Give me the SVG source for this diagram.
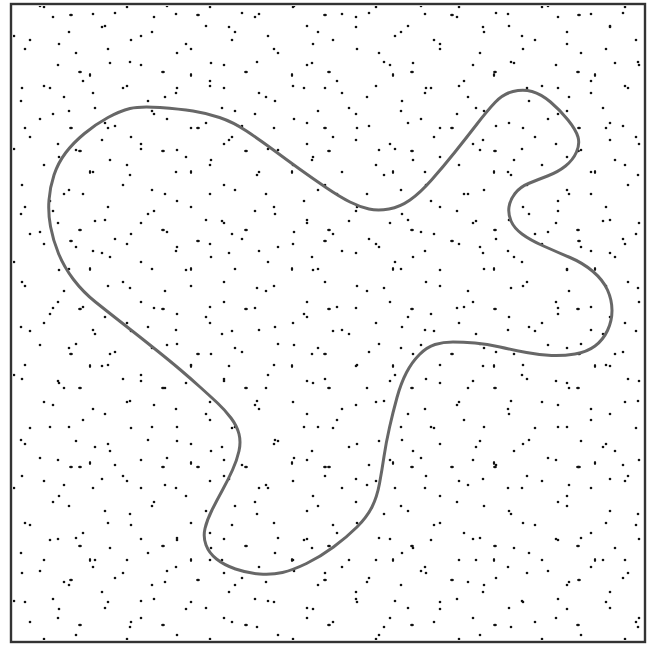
<svg xmlns="http://www.w3.org/2000/svg" width="648" height="645" viewBox="0 0 648 645">
<defs>
<style>
.d{fill:#111}
.frame{fill:none;stroke:#333;stroke-width:2.4}
.blob{fill:none;stroke:#676767;stroke-width:3;stroke-linejoin:round}
</style>
<pattern id="pA" patternUnits="userSpaceOnUse" x="3" y="2" width="83" height="79">
<circle class="d" cx="7" cy="12" r="1.3"/><circle class="d" cx="41" cy="5" r="1.3"/><circle class="d" cx="66" cy="30" r="1.3"/><circle class="d" cx="22" cy="47" r="1.3"/><circle class="d" cx="55" cy="63" r="1.3"/><ellipse class="d" cx="77" cy="70" rx="1.9" ry="1.2"/>
</pattern>
<pattern id="pB" patternUnits="userSpaceOnUse" x="17" y="9" width="101" height="97">
<circle class="d" cx="13" cy="31" r="1.3"/><circle class="d" cx="36" cy="8" r="1.3"/><circle class="d" cx="59" cy="44" r="1.3"/><circle class="d" cx="88" cy="17" r="1.3"/><circle class="d" cx="5" cy="79" r="1.3"/><circle class="d" cx="47" cy="88" r="1.3"/><ellipse class="d" cx="73" cy="66" rx="1.2" ry="1.9"/><circle class="d" cx="93" cy="54" r="1.3"/>
</pattern>
<pattern id="pC" patternUnits="userSpaceOnUse" x="31" y="24" width="127" height="113">
<circle class="d" cx="9" cy="95" r="1.3"/><circle class="d" cx="28" cy="20" r="1.3"/><circle class="d" cx="52" cy="57" r="1.3"/><circle class="d" cx="71" cy="3" r="1.3"/><circle class="d" cx="84" cy="102" r="1.3"/><circle class="d" cx="99" cy="38" r="1.3"/><circle class="d" cx="117" cy="77" r="1.3"/><ellipse class="d" cx="40" cy="104" rx="1.9" ry="1.2"/><circle class="d" cx="19" cy="64" r="1.3"/><circle class="d" cx="110" cy="12" r="1.3"/><circle class="d" cx="64" cy="84" r="1.3"/>
</pattern>
</defs>
<rect x="0" y="0" width="648" height="645" fill="#fff"/>
<g id="dots">
<rect x="13" y="6" width="630" height="634" fill="url(#pA)"/>
<rect x="13" y="6" width="630" height="634" fill="url(#pB)"/>
<rect x="13" y="6" width="630" height="634" fill="url(#pC)"/>
</g>
<g id="frame"><rect class="frame" x="11" y="4" width="634" height="638"/></g>
<g id="outline">
<path class="blob" d="M130,108.5 Q140,106 160,107.5 Q180,109 193,111 Q206,113 219.5,117.5 Q233,122 246.5,131 Q260,140 273.5,150 Q287,160 299.5,169 Q312,178 326,187.5 Q340,197 350,202 Q360,207 369,209 Q378,211 389,209 Q400,207 410,200 Q420,193 431.5,180 Q443,167 455,152 Q467,137 477,124 Q487,111 495,102.5 Q503,94 513,91.5 Q523,89 532,91.5 Q541,94 550.5,102 Q560,110 568,120 Q576,130 578,137 Q580,144 576.5,152 Q573,160 565.5,166 Q558,172 547.5,176 Q537,180 528.5,183.5 Q520,187 515,193.5 Q510,200 509,207 Q508,214 511,221 Q514,228 522,234 Q530,240 543.5,246 Q557,252 570,257.5 Q583,263 593,271.5 Q603,280 607.5,290 Q612,300 612,310.5 Q612,321 607.5,330.5 Q603,340 595,346 Q587,352 575,354 Q563,356 551.5,355.5 Q540,355 526.5,352.5 Q513,350 500,347 Q487,344 475,343 Q463,342 453,342 Q443,342 435,344.5 Q427,347 419.5,354.5 Q412,362 406.5,372.5 Q401,383 397,397.5 Q393,412 389.5,427.5 Q386,443 384,456.5 Q382,470 379.5,483.5 Q377,497 372,507 Q367,517 357,527 Q347,537 333.5,547 Q320,557 306.5,563.5 Q293,570 282.5,572.5 Q272,575 259.5,574 Q247,573 235.5,569 Q224,565 216.5,559 Q209,553 206,545 Q203,537 205,528.5 Q207,520 212,510 Q217,500 222.5,490 Q228,480 232.5,470 Q237,460 239,451 Q241,442 239,434 Q237,426 231,418 Q225,410 217.5,403 Q210,396 200,387 Q190,378 180,369.5 Q170,361 155,349 Q140,337 124,324.5 Q108,312 95.5,302 Q83,292 73.5,279.5 Q64,267 58.5,253.5 Q53,240 50.5,226.5 Q48,213 49,200 Q50,187 54,175 Q58,163 65.5,153 Q73,143 84.5,133.5 Q96,124 108,117.5 Q120,111 130,108.5 Z"/>
</g>
</svg>
